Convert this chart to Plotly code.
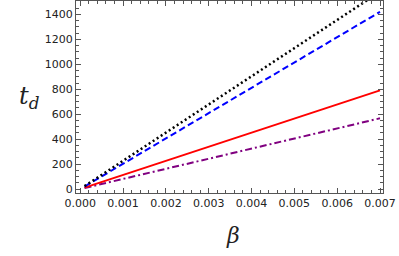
import plotly.graph_objects as go

beta = [0.0001, 0.001, 0.002, 0.003, 0.004, 0.005, 0.006, 0.007]
td_black = [23, 226, 452, 678, 904, 1130, 1356, 1582]
td_blue = [20, 203, 406, 609, 812, 1015, 1218, 1421]
td_red = [11, 113, 226, 339, 452, 565, 678, 791]
td_purple = [8, 81, 162, 243, 324, 405, 486, 567]

x_ticks = [0.000, 0.001, 0.002, 0.003, 0.004, 0.005, 0.006, 0.007]
x_tick_labels = ["0.000", "0.001", "0.002", "0.003", "0.004", "0.005", "0.006", "0.007"]
y_ticks = [0, 200, 400, 600, 800, 1000, 1200, 1400]

fig = go.Figure()
fig.add_trace(go.Scatter(x=beta, y=td_purple, mode="lines",
                         line=dict(color="#800080", width=2, dash="7px,3px,2px,3px")))
fig.add_trace(go.Scatter(x=beta, y=td_red, mode="lines",
                         line=dict(color="#ff0000", width=2)))
fig.add_trace(go.Scatter(x=beta, y=td_blue, mode="lines",
                         line=dict(color="#0000ff", width=2, dash="6.5px,3.5px")))
fig.add_trace(go.Scatter(x=beta, y=td_black, mode="lines",
                         line=dict(color="#000000", width=2.5, dash="2px,2.8px")))

axis_common = dict(
    showgrid=False, zeroline=False, showline=True, linecolor="#555555", linewidth=1,
    mirror="ticks", ticks="inside", ticklen=5, tickcolor="#555555", tickwidth=1,
    tickfont=dict(family="DejaVu Sans", size=11, color="#222222"),
)

fig.update_layout(
    width=399, height=256,
    margin=dict(l=76, r=16, t=1, b=63),
    paper_bgcolor="white", plot_bgcolor="white",
    showlegend=False,
    xaxis=dict(range=[-0.0001, 0.00707], tickvals=x_ticks, ticktext=x_tick_labels,
               minor=dict(dtick=0.0002, ticks="inside", ticklen=3, tickcolor="#555555"),
               **axis_common),
    yaxis=dict(range=[-32, 1508], tickvals=y_ticks,
               minor=dict(dtick=50, ticks="inside", ticklen=3, tickcolor="#555555"),
               **axis_common),
)

fig.add_annotation(text="<i>t<sub>d</sub></i>", xref="paper", yref="paper",
                   x=-0.15, y=0.5, xanchor="center", showarrow=False,
                   font=dict(family="DejaVu Serif", size=24, color="#222222"))
fig.add_annotation(text="<i>β</i>", xref="paper", yref="paper",
                   x=0.51, y=-0.22, yanchor="middle", showarrow=False,
                   font=dict(family="DejaVu Serif", size=22, color="#222222"))

fig.write_html("out.html", config={"displayModeBar": False},
               post_script="document.body.style.margin='0';")
